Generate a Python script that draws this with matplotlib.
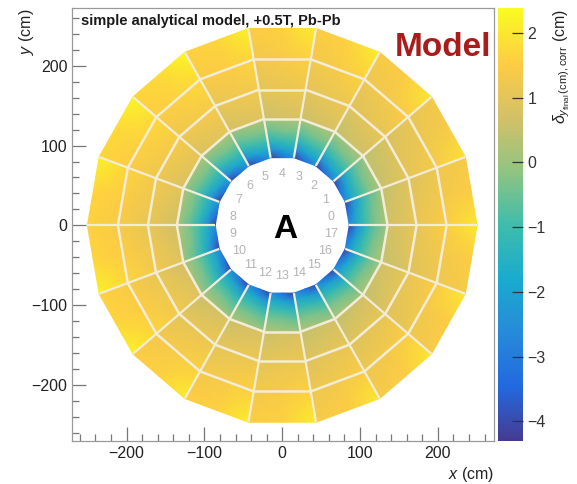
import numpy as np
import matplotlib
matplotlib.use("Agg")
import matplotlib.pyplot as plt
from matplotlib.colors import LinearSegmentedColormap, Normalize
from matplotlib.ticker import MultipleLocator

plt.rcParams['font.family'] = ['Liberation Sans', 'DejaVu Sans']
plt.rcParams['mathtext.fontset'] = 'custom'
plt.rcParams['mathtext.rm'] = 'Liberation Sans'
plt.rcParams['mathtext.it'] = 'Liberation Sans:italic'

# --- data ---
n_sectors = 18
sector_labels = [str(i) for i in range(n_sectors)]

# flat radii (cm) of the mesh nodes along a sector centre line
r_nodes = [84.8, 95.0, 106.0, 118.0, 132.0, 134.6, 170.0, 208.0, 246.6]
# chamber borders drawn as white lines
row_lines = [133.3, 170.0, 208.0]

# delta y (cm) at the node radii, at the low / middle / high edge of a sector
upper_low = [-2.5, -1.6, -0.9, -0.3, 0.2, 0.7, 1.1, 1.5, 2.0]
upper_mid = [-3.3, -2.0, -1.1, -0.4, 0.1, 0.6, 1.0, 1.3, 1.5]
upper_high = [-4.1, -2.6, -1.4, -0.6, 0.0, 0.5, 0.9, 1.2, 1.4]
lower_low = [-2.5, -1.6, -0.9, -0.3, 0.2, 0.5, 0.9, 1.2, 1.4]
lower_mid = [-3.3, -2.0, -1.1, -0.4, 0.1, 0.6, 1.0, 1.3, 1.5]
lower_high = [-4.1, -2.6, -1.4, -0.6, 0.0, 0.7, 1.1, 1.5, 2.0]

# per-sector shift of the outer chambers
sector_shift = [0.0, -0.1, 0.0, 0.1, 0.1, 0.2, 0.3, 0.3, 0.2,
                0.2, 0.2, 0.1, 0.1, 0.1, 0.0, 0.0, 0.0, 0.0]

vmin, vmax = -4.3, 2.38
cbar_ticks = [-4, -3, -2, -1, 0, 1, 2]

# ROOT kBird palette, slightly washed out like the picture
stops = [0.0, 0.125, 0.25, 0.375, 0.5, 0.625, 0.75, 0.875, 1.0]
red = [0.2082, 0.0592, 0.0780, 0.0232, 0.1802, 0.5301, 0.8186, 0.9956, 0.9764]
green = [0.1664, 0.3599, 0.5041, 0.6419, 0.7178, 0.7492, 0.7328, 0.7862, 0.9832]
blue = [0.5293, 0.8684, 0.8385, 0.7914, 0.6425, 0.4662, 0.3499, 0.1968, 0.0539]
wash = 0.08
cols = [tuple(c * (1 - wash) + wash for c in rgb) for rgb in zip(red, green, blue)]
bird = LinearSegmentedColormap.from_list('bird', list(zip(stops, cols)))
norm = Normalize(vmin, vmax)

fig = plt.figure(figsize=(5.77, 4.84), dpi=100)
ax = fig.add_axes([0.125, 0.089, 0.731, 0.894])
cax = fig.add_axes([0.863, 0.089, 0.043, 0.894])

frac = np.array([0.0, 0.5, 1.0])
half = np.deg2rad(10.0)
r = np.array(r_nodes)
outer = r >= 134.0
for s in range(n_sectors):
    centre = np.deg2rad(20.0 * s + 10.0)
    alpha = (frac - 0.5) * 2 * half
    R, A = np.meshgrid(r, alpha, indexing='ij')
    dist = R / np.cos(A)
    X = dist * np.cos(centre + A)
    Y = dist * np.sin(centre + A)
    if s < 9:
        C = np.column_stack([upper_low, upper_mid, upper_high])
    else:
        C = np.column_stack([lower_low, lower_mid, lower_high])
    C = C.copy()
    C[outer, :] += sector_shift[s]
    ax.pcolormesh(X, Y, C, cmap=bird, norm=norm, shading='gouraud',
                  antialiased=True, zorder=1)

line_col = '#f2ecd8'
for s in range(n_sectors):
    b = np.deg2rad(20.0 * s)
    r0, r1 = r_nodes[0] / np.cos(half), r_nodes[-1] / np.cos(half)
    ax.plot([r0 * np.cos(b), r1 * np.cos(b)], [r0 * np.sin(b), r1 * np.sin(b)],
            color=line_col, lw=1.6, solid_capstyle='butt', zorder=2)
    for rr in row_lines:
        d = rr / np.cos(half)
        ax.plot([d * np.cos(b), d * np.cos(b + 2 * half)],
                [d * np.sin(b), d * np.sin(b + 2 * half)],
                color=line_col, lw=1.8, solid_capstyle='butt', zorder=2)
    c = b + half
    ax.text(64 * np.cos(c), 64 * np.sin(c), sector_labels[s], color='#b4b4b4',
            fontsize=9, ha='center', va='center', zorder=3)

ax.text(4, -5, 'A', fontsize=24, fontweight='bold', ha='center', va='center')
ax.text(-259, 251, 'simple analytical model, +0.5T, Pb-Pb', fontsize=10.5,
        fontweight='bold', color='#1a1a1a', ha='left', va='baseline')
ax.text(268, 212, 'Model', fontsize=24, fontweight='bold', color='#a81c1c',
        ha='right', va='baseline')

ax.set_xlim(-270, 272)
ax.set_ylim(-270, 272)
ax.xaxis.set_major_locator(MultipleLocator(100))
ax.xaxis.set_minor_locator(MultipleLocator(20))
ax.yaxis.set_major_locator(MultipleLocator(100))
ax.yaxis.set_minor_locator(MultipleLocator(20))
ax.tick_params(which='both', direction='in', colors='#777777',
               labelcolor='#222222', labelsize=11.5)
ax.tick_params(which='major', length=10, width=0.9)
ax.tick_params(which='minor', length=5, width=0.9)
for sp in ax.spines.values():
    sp.set_color('#999999')
    sp.set_linewidth(0.9)
ax.set_xlabel(r'$x$ (cm)', fontsize=11.5, color='#222222', ha='right')
ax.xaxis.set_label_coords(1.0, -0.055)
ax.set_ylabel(r'$y$ (cm)', fontsize=11.5, color='#222222', ha='right')
ax.yaxis.set_label_coords(-0.085, 1.0)

sm = plt.cm.ScalarMappable(norm=norm, cmap=bird)
cb = fig.colorbar(sm, cax=cax, ticks=cbar_ticks)
cb.outline.set_visible(False)
cax.tick_params(direction='in', length=8, width=0.9, colors='#333333',
                labelsize=11.5)
cb.set_label(r'$\delta_{y_{\mathrm{final}}\,\mathrm{(cm),corr}}$ (cm)',
             fontsize=11.5, loc='top', color='#222222')

fig.savefig('out.png', dpi=100)
